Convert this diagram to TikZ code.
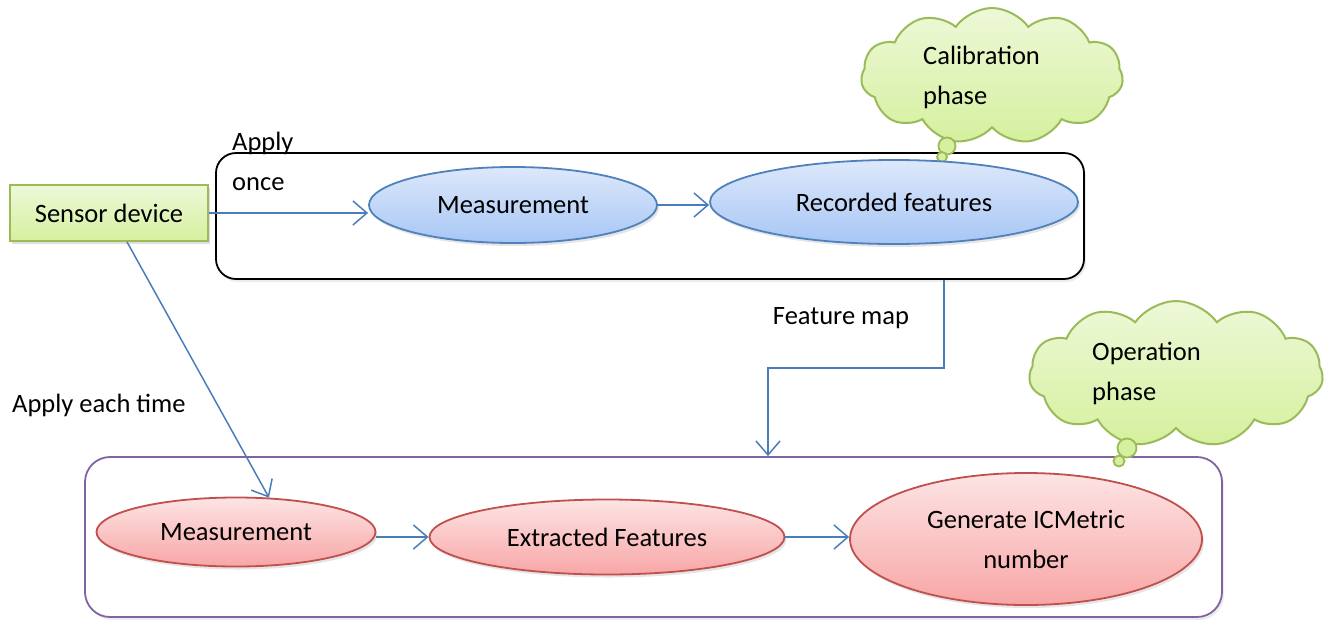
\documentclass[tikz,border=0pt]{standalone}
\usepackage{fontspec}
\setmainfont{Carlito}
\usepackage{tikz}
\usetikzlibrary{arrows.meta,shapes.geometric,shapes.symbols,shadows}
\definecolor{grnline}{HTML}{9BBB59}
\definecolor{grntop}{HTML}{EEF8D8}
\definecolor{grnbot}{HTML}{D5F09E}
\definecolor{bluline}{HTML}{4F81BD}
\definecolor{blutop}{HTML}{DDE8FB}
\definecolor{blubot}{HTML}{A7C6F5}
\definecolor{redline}{HTML}{C0504D}
\definecolor{redtop}{HTML}{FDE4E4}
\definecolor{redbot}{HTML}{F8A6A6}
\definecolor{purpline}{HTML}{8064A2}
\definecolor{arrline}{HTML}{4A7EBB}
\tikzset{
  txt/.style = {font=\fontsize{26.5}{40}\selectfont, inner sep=0pt},
  sensorbox/.style = {txt, rectangle, draw=grnline, line width=1.8pt, top color=grntop,
    bottom color=grnbot, minimum width=198pt, minimum height=56pt,
    drop shadow={opacity=0.25,shadow xshift=2pt,shadow yshift=-3pt}},% capteur
  calnode/.style = {txt, ellipse, draw=bluline, line width=1.8pt, top color=blutop,
    bottom color=blubot,
    drop shadow={opacity=0.2,shadow xshift=2pt,shadow yshift=-3pt}},% phase calibration
  opnode/.style = {txt, ellipse, draw=redline, line width=1.8pt, top color=redtop,
    bottom color=redbot, align=center,
    drop shadow={opacity=0.2,shadow xshift=2pt,shadow yshift=-3pt}},% phase operation
  phasebox/.style = {rectangle, rounded corners=20pt, line width=1.8pt, fill=white,
    drop shadow={opacity=0.15,shadow xshift=2pt,shadow yshift=-3pt}},
  thought/.style = {cloud, cloud puffs=11, cloud puff arc=110, aspect=2,
    draw=grnline, line width=2pt, top color=grntop, bottom color=grnbot},% bulle
  bubble/.style = {circle, draw=grnline, line width=1.8pt, fill=grnbot, inner sep=0pt},
  flow/.style = {draw=arrline, line width=1.5pt,
    -{Straight Barb[length=14pt,width=24pt,line width=1.5pt]}}
}

\begin{document}
\begin{tikzpicture}[x=1pt,y=-1pt]
\useasboundingbox (0,0) rectangle (1331,619);
% boites des deux phases
\node [phasebox, draw=black, minimum width=868pt, minimum height=126pt] (calBox) at (650,216) {};
\node [phasebox, draw=purpline, minimum width=1137pt, minimum height=160pt,
  rounded corners=25pt] (opBox) at (653.5,537) {};
% bulles
\node [thought, minimum width=262pt, minimum height=136pt] (calCloud) at (992,76) {};
\node [bubble, minimum size=17pt] (calDot1) at (947,146) {};
\node [bubble, minimum size=10pt] (calDot2) at (942,157) {};
\node [txt, align=left, anchor=west] (calText) at (923,77) {Calibration\\phase};
\node [thought, minimum width=294pt, minimum height=146pt] (opCloud) at (1176,374) {};
\node [bubble, minimum size=19pt] (opDot1) at (1127,448) {};
\node [bubble, minimum size=11pt] (opDot2) at (1119,461) {};
\node [txt, align=left, anchor=west] (opText) at (1092,373) {Operation\\phase};
% noeuds
\node [sensorbox] (sensor) at (109,213) {Sensor device};
\node [calnode, minimum width=288pt, minimum height=76pt] (measCal) at (513,205) {Measurement};
\node [calnode, minimum width=368pt, minimum height=84pt] (recCal) at (894,202) {Recorded features};
\node [opnode, minimum width=279pt, minimum height=69pt] (measOp) at (236,532) {Measurement};
\node [opnode, minimum width=355pt, minimum height=75pt] (extract) at (607,537) {Extracted Features};
\node [opnode, minimum width=352pt, minimum height=132pt] (gen) at (1026,539) {Generate ICMetric\\number};
% etiquettes
\node [txt, align=left, anchor=west] (applyOnce) at (232,161) {Apply\\once};
\node [txt, anchor=west] (applyEach) at (12,405) {Apply each time};
\node [txt] (featMap) at (841,318) {Feature map};
% fleches
\coordinate (fmStart) at (944,0);
\coordinate (fmTurn) at (768,368);
\draw [flow] (sensor.east) -- (sensor.east -| measCal.west);
\draw [flow] (measCal.east) -- (measCal.east -| recCal.west);
\draw [flow] (calBox.south -| fmStart) |- (fmTurn) -- (opBox.north -| fmTurn);
\draw [flow] ([xshift=18pt]sensor.south) -- ([xshift=33pt,yshift=-1pt]measOp.north);
\draw [flow] (extract.west -| measOp.east) -- (extract.west);
\draw [flow] (extract.east) -- (extract.east -| gen.west);
\end{tikzpicture}
\end{document}
